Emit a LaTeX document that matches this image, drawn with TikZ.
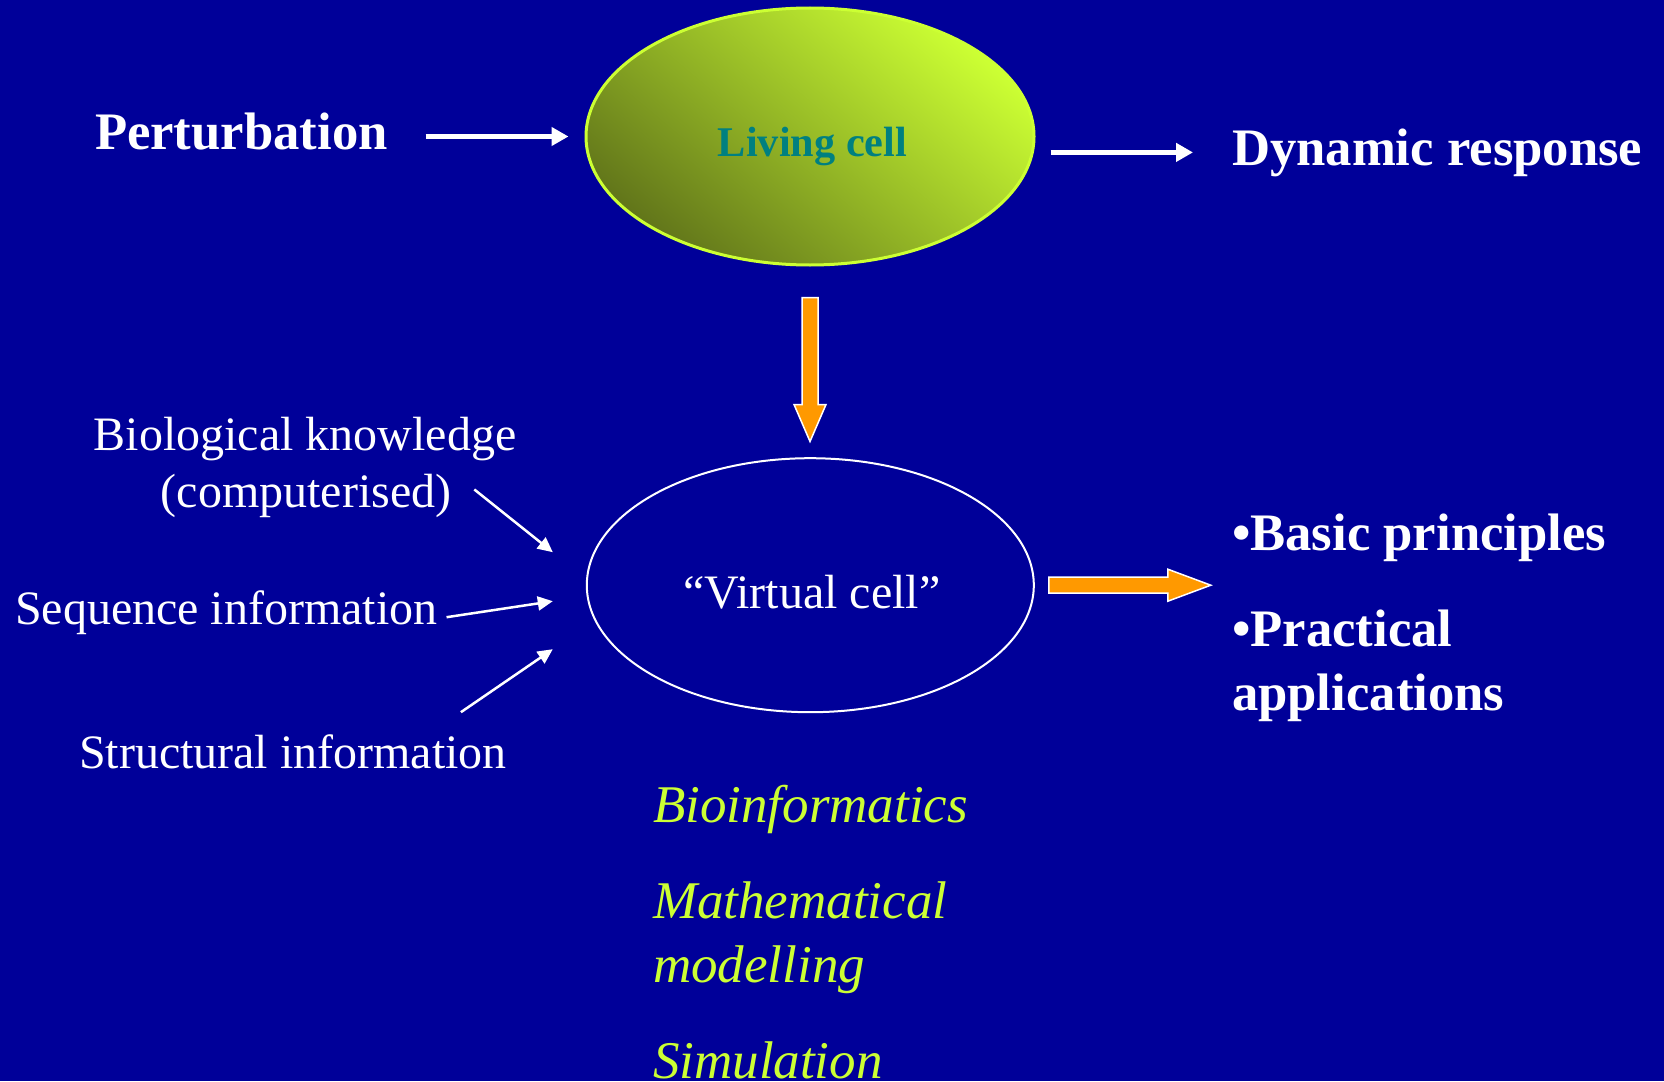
\documentclass[tikz,border=0pt]{standalone}
\usepackage{fontspec}
\setmainfont{Liberation Serif}
\usetikzlibrary{arrows.meta,shapes.geometric}
\definecolor{bgblue}{RGB}{0,0,153}
\definecolor{lime}{RGB}{204,255,51}
\definecolor{limedark}{RGB}{98,118,26}
\definecolor{limemid}{RGB}{166,200,40}
\definecolor{tealtxt}{RGB}{0,128,128}
\definecolor{orangearr}{RGB}{255,153,0}
\tikzset{
  txt/.style={inner sep=0pt, outer sep=0pt, text=white},
  bigbold/.style={txt, font=\fontsize{52.7}{63}\selectfont\bfseries},
  reg/.style={txt, font=\fontsize{48}{58}\selectfont},
  ital/.style={txt, text=lime, font=\fontsize{53}{64}\selectfont\itshape},
  celltxt/.style={txt, text=tealtxt, font=\fontsize{42.3}{50}\selectfont\bfseries},
  warrow/.style={white, line width=5.5pt, -{Triangle[length=17pt,width=18pt]}},
  thinarrow/.style={white, line width=2.5pt, -{Triangle[length=15pt,width=14pt]}},
  oarrow/.style={fill=orangearr, draw=white, line width=1.5pt, line join=miter},
  livingshape/.style={ellipse, inner sep=0pt, minimum width=448pt, minimum height=257pt,
    draw=lime, line width=3pt, top color=lime, middle color=limemid, bottom color=limedark,
    shading angle=-40},
  virtualshape/.style={ellipse, inner sep=0pt, minimum width=447pt, minimum height=254pt,
    draw=white, line width=2pt},
}
\begin{document}
\begin{tikzpicture}[x=1pt,y=-1pt]
\fill[bgblue] (0,0) rectangle (1664,1081);
\useasboundingbox (0,0) rectangle (1664,1081);

% top row
\node[livingshape] (living) at (810,136.5) {};
\node[celltxt, anchor=base] (livingtxt) at (812.5,156) {Living cell};
\node[bigbold, anchor=base west] (pert) at (95,149.3) {Perturbation};
\node[bigbold, anchor=base west] (dyn) at (1232,165) {Dynamic response};

\draw[warrow] ([xshift=38pt]pert.east |- living.west) -- ([xshift=-16pt]living.west);
\draw[warrow] ([xshift=15pt]living.east |- dyn.west) -- ([xshift=-39pt]dyn.west);

% virtual cell
\node[virtualshape] (virtual) at (810.3,585.2) {};
\node[reg, anchor=base] (virtualtxt) at (812,608.5) {“Virtual cell”};

% orange down arrow
\draw[oarrow] ([yshift=-31pt]living.south) ++(-8,0) -- ++(0,107) -- ++(-8,0) -- ++(16,37)
  -- ++(16,-37) -- ++(-8,0) -- ++(0,-107) -- cycle;
% orange right arrow
\draw[oarrow] ([xshift=14pt]virtual.east) ++(0,-8) -- ++(119,0) -- ++(0,-8) -- ++(43,16)
  -- ++(-43,16) -- ++(0,-8) -- ++(-119,0) -- cycle;

% left inputs
\node[reg, anchor=base] (bio) at (305,450) {Biological knowledge};
\node[reg, anchor=base] (comp) at (306,507) {(computerised)};
\node[reg, anchor=base west] (seq) at (15,624) {Sequence information};
\node[reg, anchor=base west] (struct) at (79,768) {Structural information};

\draw[thinarrow] ([xshift=23pt,yshift=6pt]comp.east) -- ([xshift=-33pt,yshift=33pt]virtual.west);
\draw[thinarrow] ([xshift=9pt,yshift=-5pt]seq.east) -- ([xshift=-33pt,yshift=-16pt]virtual.west);
\draw[thinarrow] ([xshift=-46pt,yshift=22pt]struct.north east) -- ([xshift=-33pt,yshift=-64pt]virtual.west);

% outcomes
\node[bigbold, anchor=base west] (basic) at (1232,550) {•Basic principles};
\node[bigbold, anchor=base west] (pract) at (1232,646) {•Practical};
\node[bigbold, anchor=base west] (appl) at (1232,710) {applications};

% methods
\node[ital, anchor=base west] (bioinf) at (653,822) {Bioinformatics};
\node[ital, anchor=base west] (math) at (653,918) {Mathematical};
\node[ital, anchor=base west] (model) at (653,982) {modelling};
\node[ital, anchor=base west] (sim) at (653,1078) {Simulation};
\end{tikzpicture}
\end{document}
